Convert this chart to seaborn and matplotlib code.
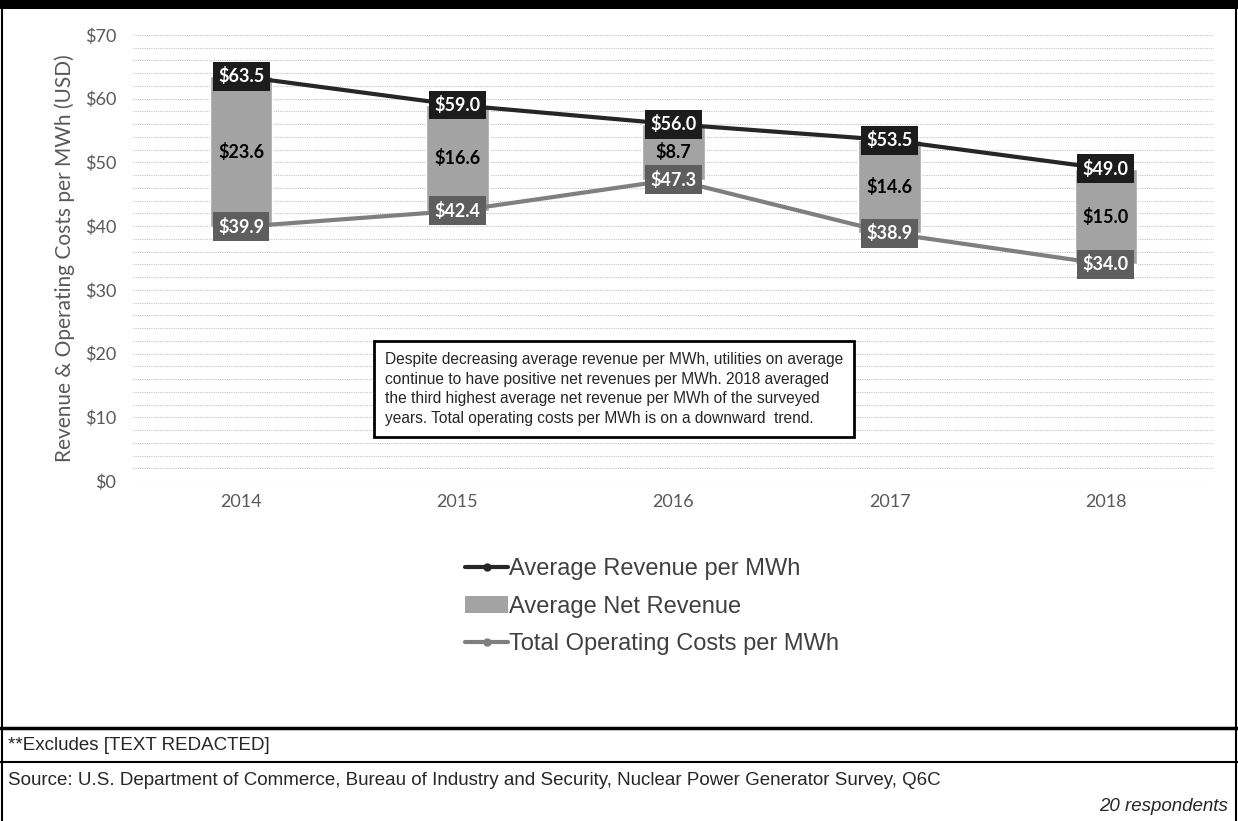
import numpy as np
import pandas as pd
import seaborn as sns
import matplotlib.pyplot as plt
from matplotlib.lines import Line2D
from matplotlib.patches import Patch, Rectangle
from matplotlib.ticker import MultipleLocator

# data
years = ["2014", "2015", "2016", "2017", "2018"]
revenue = [63.5, 59.0, 56.0, 53.5, 49.0]
op_cost = [39.9, 42.4, 47.3, 38.9, 34.0]
net_rev = [23.6, 16.6, 8.7, 14.6, 15.0]

df = pd.DataFrame({"year": years, "revenue": revenue,
                   "cost": op_cost, "net": net_rev})

sns.set_theme(style="white")
plt.rcParams["font.family"] = ["Lato", "DejaVu Sans"]

c_rev = "#262626"
c_cost = "#7f7f7f"
c_net = "#a3a3a3"
c_txt = "#595959"

fig = plt.figure(figsize=(12.38, 8.21), dpi=100)
ax = fig.add_axes([0.1074, 0.4141, 0.8732, 0.5433])

# floating bar = net revenue sitting on top of the operating cost
sns.barplot(data=df, x="year", y="net", bottom=df["cost"], color=c_net,
            width=0.29, saturation=1, ax=ax, zorder=2)
sns.pointplot(data=df, x="year", y="revenue", color=c_rev, markers="o",
              markersize=4, linewidth=3, ax=ax, zorder=3)
sns.pointplot(data=df, x="year", y="cost", color=c_cost, markers="o",
              markersize=4, linewidth=3, ax=ax, zorder=3)

# data labels
for i, row in df.iterrows():
    ax.text(i, row["revenue"], f"${row['revenue']:.1f}", ha="center", va="center",
            color="white", fontsize=13, fontweight="bold", zorder=5,
            bbox=dict(boxstyle="square,pad=0.3", fc="#1c1c1c", ec="none"))
    ax.text(i, row["cost"], f"${row['cost']:.1f}", ha="center", va="center",
            color="white", fontsize=13, fontweight="bold", zorder=5,
            bbox=dict(boxstyle="square,pad=0.3", fc="#5e5e5e", ec="none"))
    ax.text(i, row["cost"] + row["net"] / 2, f"${row['net']:.1f}", ha="center",
            va="center", color="black", fontsize=13, fontweight="bold", zorder=5)

ax.set_xlim(-0.5, 4.5)
ax.set_ylim(0, 70)
ax.set_yticks(range(0, 71, 10))
ax.set_yticklabels([f"${v}" for v in range(0, 71, 10)])
ax.yaxis.set_minor_locator(MultipleLocator(2))
ax.grid(which="both", axis="y", color="#c4c4c4", lw=0.8, ls=(0, (1, 1)))
ax.grid(which="both", axis="x", visible=False)
ax.set_axisbelow(True)
for s in ax.spines.values():
    s.set_visible(False)
ax.tick_params(axis="both", which="both", length=0, labelsize=13, colors=c_txt, pad=12)
ax.tick_params(axis="x", pad=9)
ax.set_xlabel("")
ax.set_ylabel("Revenue & Operating Costs per MWh (USD)", fontsize=15, color=c_txt, labelpad=7)

# legend under the plot
handles = [Line2D([], [], color=c_rev, lw=3, marker="o", ms=5),
           Patch(fc=c_net, ec="none"),
           Line2D([], [], color=c_cost, lw=3, marker="o", ms=5)]
labels = ["Average Revenue per MWh", "Average Net Revenue", "Total Operating Costs per MWh"]
fig.legend(handles, labels, loc="upper left", bbox_to_anchor=(0.3587, 0.346),
           frameon=False, labelspacing=0.65, handlelength=1.8,
           handletextpad=0.05, prop={"family": ["Liberation Sans"], "size": 17},
           labelcolor="#404040")

# call-out box
note = ("Despite decreasing average revenue per MWh, utilities on average\n"
        "continue to have positive net revenues per MWh. 2018 averaged\n"
        "the third highest average net revenue per MWh of the surveyed\n"
        "years. Total operating costs per MWh is on a downward  trend.")
fig.text(0.311, 0.526, note, ha="left", va="center", fontsize=11.2,
         family=["Liberation Sans"], linespacing=1.38,
         bbox=dict(boxstyle="square,pad=0.7", fc="white", ec="black", lw=2))

# frame and footer rules
fig.add_artist(Rectangle((0, 1 - 9 / 821), 1, 9 / 821, transform=fig.transFigure,
                         fc="black", ec="none"))
for x in (2 / 1238, 1236 / 1238):
    fig.add_artist(Line2D([x, x], [0, 1], color="black", lw=1.5, transform=fig.transFigure))
for y, w in ((1 - 728 / 821, 2.5), (1 - 762 / 821, 1.5)):
    fig.add_artist(Line2D([0, 1], [y, y], color="black", lw=w, transform=fig.transFigure))

foot = ["Liberation Sans Narrow", "Liberation Sans"]
fig.text(8 / 1238, 1 - 745 / 821, "**Excludes [TEXT REDACTED]", ha="left", va="center",
         fontsize=13.5, family=foot)
fig.text(8 / 1238, 1 - 780 / 821,
         "Source: U.S. Department of Commerce, Bureau of Industry and Security, "
         "Nuclear Power Generator Survey, Q6C",
         ha="left", va="center", fontsize=13.5, family=foot)
fig.text(1228 / 1238, 1 - 806 / 821, "20 respondents", ha="right", va="center",
         fontsize=13.5, style="italic", family=foot)

fig.savefig("out.png", dpi=100)
